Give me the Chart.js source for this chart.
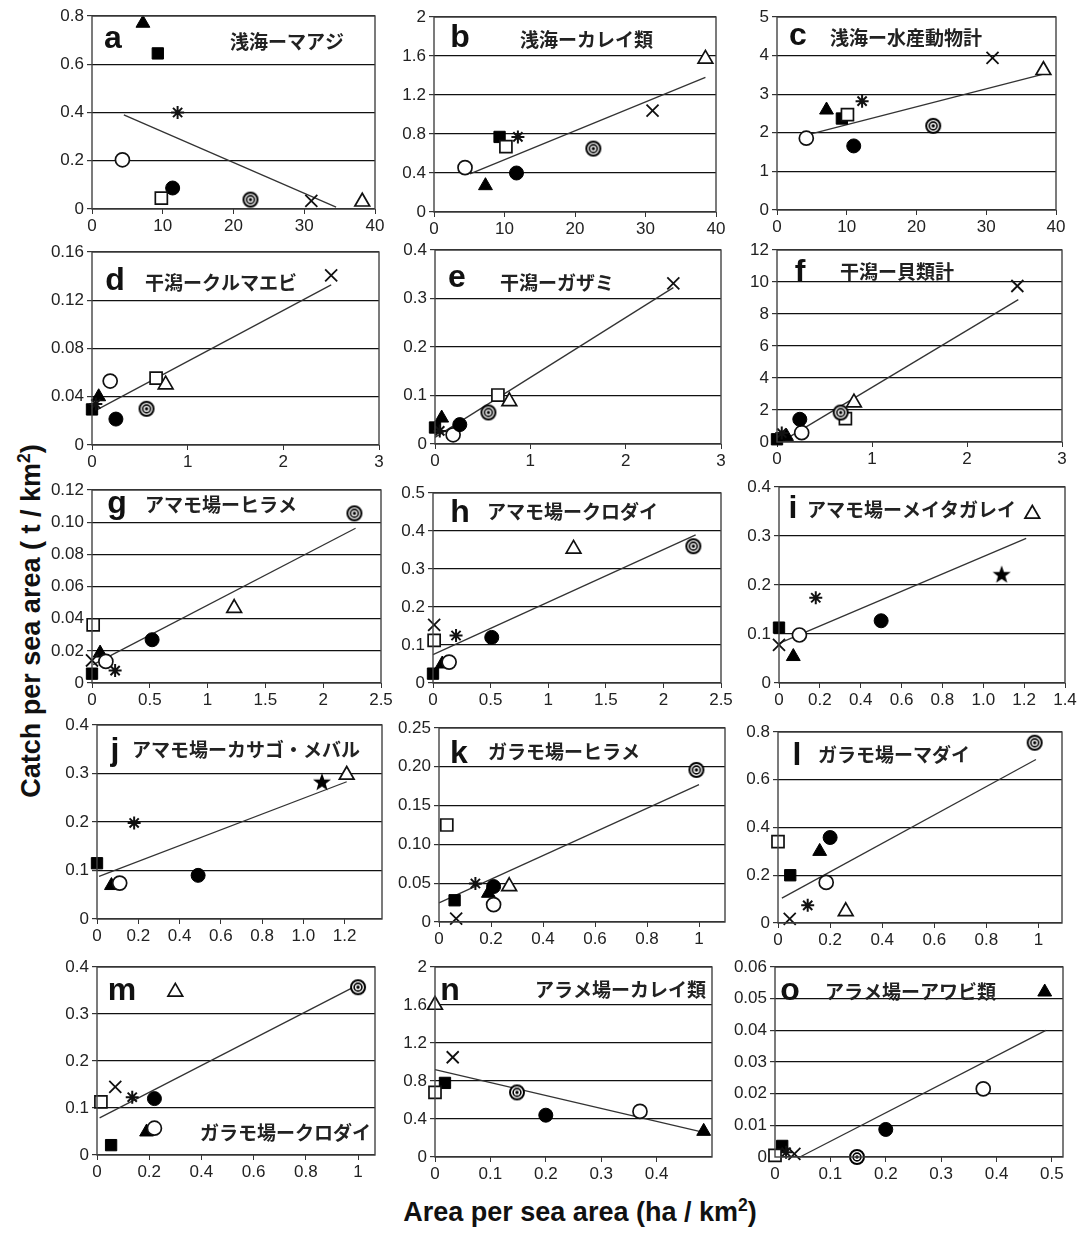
<!DOCTYPE html>
<html>
<head>
<meta charset="utf-8">
<script src="https://cdn.jsdelivr.net/npm/chart.js@4.4.1/dist/chart.umd.min.js"></script>
<style>
  html, body { margin: 0; padding: 0; background: #fff; }
  #page { position: relative; width: 1077px; height: 1233px; overflow: hidden; }
  canvas.panel { position: absolute; }
  .axis-title { position: absolute; font-family: "Liberation Sans", Arial, sans-serif; font-weight: bold; font-size: 27px; color: #111; white-space: nowrap; }
  .axis-title sup { font-size: 0.65em; }
  #ytitle { left: 30px; top: 621px; transform: translate(-50%, -50%) rotate(-90deg); }
  #xtitle { left: 580px; top: 1211px; transform: translate(-50%, -50%); }
</style>
</head>
<body>
<div id="page">
  <div id="ytitle" class="axis-title">Catch per sea area ( t / km<sup>2</sup>)</div>
  <div id="xtitle" class="axis-title">Area per sea area (ha / km<sup>2</sup>)</div>
</div>
<script>
// marker order used by every area / catch array below
const SITES = ['filledTriangle', 'filledSquare', 'asterisk', 'openCircle', 'filledCircle',
               'openSquare', 'bullseye', 'cross', 'openTriangle', 'filledStar'];

// a 浅海ーマアジ
const aArea  = [7.2, 9.3, 12.1, 4.3, 11.4, 9.8, 22.4, 31.0, 38.2, null];
const aCatch = [0.77, 0.645, 0.40, 0.204, 0.087, 0.045, 0.039, 0.034, 0.030, null];
const aFit   = [[4.5, 0.39], [34.5, 0.008]];
// b 浅海ーカレイ類
const bArea  = [7.3, 9.3, 11.9, 4.4, 11.7, 10.2, 22.6, 31.0, 38.5, null];
const bCatch = [0.27, 0.77, 0.77, 0.455, 0.40, 0.67, 0.65, 1.04, 1.57, null];
const bFit   = [[5.1, 0.39], [38.5, 1.38]];
// c 浅海ー水産動物計
const cArea  = [7.1, 9.3, 12.2, 4.2, 11.0, 10.1, 22.4, 30.9, 38.2, null];
const cCatch = [2.59, 2.37, 2.82, 1.86, 1.66, 2.47, 2.18, 3.94, 3.62, null];
const cFit   = [[4.2, 1.94], [38.2, 3.52]];
// d 干潟ークルマエビ
const dArea  = [0.07, 0.0, 0.04, 0.19, 0.25, 0.67, 0.57, 2.50, 0.77, null];
const dCatch = [0.040, 0.0295, 0.034, 0.053, 0.0215, 0.0555, 0.030, 0.1407, 0.050, null];
const dFit   = [[0, 0.027], [2.5, 0.1327]];
// e 干潟ーガザミ
const eArea  = [0.07, 0.0, 0.05, 0.19, 0.26, 0.66, 0.56, 2.50, 0.78, null];
const eCatch = [0.0535, 0.034, 0.027, 0.019, 0.040, 0.101, 0.065, 0.331, 0.088, null];
const eFit   = [[0, 0.0137], [2.5, 0.3225]];
// f 干潟ー貝類計
const fArea  = [0.10, 0.0, 0.05, 0.26, 0.24, 0.72, 0.67, 2.53, 0.81, null];
const fCatch = [0.35, 0.17, 0.56, 0.58, 1.42, 1.46, 1.84, 9.75, 2.46, null];
const fFit   = [[0.07, 0.1], [2.54, 8.9]];
// g アマモ場ーヒラメ
const gArea  = [0.07, 0.0, 0.2, 0.12, 0.52, 0.01, 2.27, 0.0, 1.23, null];
const gCatch = [0.0186, 0.0058, 0.0077, 0.0134, 0.0269, 0.0362, 0.1055, 0.014, 0.0466, null];
const gFit   = [[0.01, 0.0114], [2.28, 0.0962]];
// h アマモ場ークロダイ
const hArea  = [0.08, 0.0, 0.2, 0.14, 0.51, 0.01, 2.26, 0.01, 1.22, null];
const hCatch = [0.05, 0.0246, 0.125, 0.055, 0.12, 0.112, 0.36, 0.153, 0.353, null];
const hFit   = [[0, 0.0746], [2.28, 0.39]];
// i アマモ場ーメイタガレイ
const iArea  = [0.07, 0.0, 0.18, 0.10, 0.50, null, null, 0.0, 1.24, 1.09];
const iCatch = [0.054, 0.113, 0.174, 0.098, 0.127, null, null, 0.078, 0.345, 0.222];
const iFit   = [[0, 0.081], [1.21, 0.295]];
// j アマモ場ーカサゴ・メバル
const jArea  = [0.07, 0.0, 0.18, 0.11, 0.49, null, null, null, 1.21, 1.09];
const jCatch = [0.069, 0.115, 0.198, 0.074, 0.09, null, null, null, 0.297, 0.283];
const jFit   = [[0.01, 0.088], [1.21, 0.283]];
// k ガラモ場ーヒラメ
const kArea  = [0.19, 0.06, 0.14, 0.21, 0.21, 0.03, 0.99, 0.066, 0.27, null];
const kCatch = [0.037, 0.028, 0.0496, 0.0224, 0.0457, 0.125, 0.196, 0.0043, 0.046, null];
const kFit   = [[0, 0.0246], [1.0, 0.177]];
// l ガラモ場ーマダイ
const lArea  = [0.16, 0.047, 0.114, 0.185, 0.2, 0.0, 0.985, 0.045, 0.26, null];
const lCatch = [0.30, 0.2, 0.074, 0.17, 0.358, 0.341, 0.755, 0.017, 0.049, null];
const lFit   = [[0.015, 0.104], [0.99, 0.685]];
// m ガラモ場ークロダイ
const mArea  = [0.19, 0.054, 0.135, 0.22, 0.22, 0.015, 1.0, 0.07, 0.30, null];
const mCatch = [0.049, 0.021, 0.123, 0.057, 0.12, 0.113, 0.357, 0.145, 0.347, null];
const mFit   = [[0.01, 0.079], [1.0, 0.362]];
// n アラメ場ーカレイ類
const nArea  = [0.485, 0.018, null, 0.37, 0.2, 0.0, 0.148, 0.032, 0.0, null];
const nCatch = [0.27, 0.78, null, 0.48, 0.44, 0.68, 0.68, 1.05, 1.6, null];
const nFit   = [[0, 0.92], [0.485, 0.26]];
// o アラメ場ーアワビ類
const oArea  = [0.487, 0.013, 0.02, 0.376, 0.2, 0.0, 0.148, 0.035, null, null];
const oCatch = [0.0521, 0.0035, 0.0015, 0.0215, 0.0087, 0.0005, 0.0, 0.001, null, null];
const oFit   = [[0.045, 0.0], [0.489, 0.04]];

// tick labels
const X40 = ['0', '10', '20', '30', '40'];
const X3 = ['0', '1', '2', '3'];
const X25 = ['0', '0.5', '1', '1.5', '2', '2.5'];
const X14 = ['0', '0.2', '0.4', '0.6', '0.8', '1.0', '1.2', '1.4'];
const X12 = ['0', '0.2', '0.4', '0.6', '0.8', '1.0', '1.2'];
const X1 = ['0', '0.2', '0.4', '0.6', '0.8', '1'];
const X04 = ['0', '0.1', '0.2', '0.3', '0.4'];
const X05 = ['0', '0.1', '0.2', '0.3', '0.4', '0.5'];
const aY = ['0', '0.2', '0.4', '0.6', '0.8'];
const bY = ['0', '0.4', '0.8', '1.2', '1.6', '2'];
const cY = ['0', '1', '2', '3', '4', '5'];
const dY = ['0', '0.04', '0.08', '0.12', '0.16'];
const eY = ['0', '0.1', '0.2', '0.3', '0.4'];
const fY = ['0', '2', '4', '6', '8', '10', '12'];
const gY = ['0', '0.02', '0.04', '0.06', '0.08', '0.10', '0.12'];
const hY = ['0', '0.1', '0.2', '0.3', '0.4', '0.5'];
const kY = ['0', '0.05', '0.10', '0.15', '0.20', '0.25'];
const lY = ['0', '0.2', '0.4', '0.6', '0.8'];
const oY = ['0', '0.01', '0.02', '0.03', '0.04', '0.05', '0.06'];

// little canvases for the two marks Chart.js has no style for
function markCanvas(draw) {
  const c = document.createElement('canvas');
  c.width = 20; c.height = 20;
  draw(c.getContext('2d'));
  return c;
}
const bullseye = markCanvas(g => {
  g.strokeStyle = '#000'; g.fillStyle = '#fff'; g.lineWidth = 2;
  g.beginPath(); g.arc(10, 10, 7, 0, Math.PI * 2); g.fill(); g.stroke();
  g.lineWidth = 1.6;
  g.beginPath(); g.arc(10, 10, 3.9, 0, Math.PI * 2); g.stroke();
  g.fillStyle = '#000';
  g.beginPath(); g.arc(10, 10, 1.7, 0, Math.PI * 2); g.fill();
});
const filledStar = markCanvas(g => {
  g.fillStyle = '#000';
  g.beginPath();
  for (let k = 0; k < 10; k++) {
    const r = k % 2 ? 3.9 : 9.5;
    const a = -Math.PI / 2 + k * Math.PI / 5;
    g.lineTo(10 + r * Math.cos(a), 10.8 + r * Math.sin(a));
  }
  g.closePath(); g.fill();
});

const MARK = {
  filledTriangle: { style: 'triangle', r: 8, fill: '#000', line: '#000', w: 1 },
  filledSquare:   { style: 'rect', r: 8, fill: '#000', line: '#000', w: 1 },
  asterisk:       { style: 'star', r: 6.5, fill: '#000', line: '#111', w: 2 },
  openCircle:     { style: 'circle', r: 7, fill: '#fff', line: '#111', w: 1.7 },
  filledCircle:   { style: 'circle', r: 7, fill: '#000', line: '#000', w: 1 },
  openSquare:     { style: 'rect', r: 8.5, fill: '#fff', line: '#111', w: 1.7 },
  bullseye:       { style: bullseye, r: 8, fill: '#fff', line: '#111', w: 1 },
  cross:          { style: 'crossRot', r: 8.5, fill: '#000', line: '#111', w: 1.8 },
  openTriangle:   { style: 'triangle', r: 8.5, fill: '#fff', line: '#111', w: 1.7 },
  filledStar:     { style: filledStar, r: 9, fill: '#000', line: '#000', w: 1 },
};

const PANELS = [
  { letter: 'a', title: '浅海ーマアジ', area: aArea, catch: aCatch, fit: aFit, xT: X40, yT: aY, xMax: 40,
    box: [92, 16, 375, 209], letterAt: [21, 32], titleAt: [138, 33] },
  { letter: 'b', title: '浅海ーカレイ類', area: bArea, catch: bCatch, fit: bFit, xT: X40, yT: bY, xMax: 40,
    box: [434, 17, 716, 212], letterAt: [26, 30], titleAt: [86, 30] },
  { letter: 'c', title: '浅海ー水産動物計', area: cArea, catch: cCatch, fit: cFit, xT: X40, yT: cY, xMax: 40,
    box: [777, 17, 1056, 210], letterAt: [21, 28], titleAt: [53, 28] },
  { letter: 'd', title: '干潟ークルマエビ', area: dArea, catch: dCatch, fit: dFit, xT: X3, yT: dY, xMax: 3,
    box: [92, 252, 379, 445], letterAt: [23, 38], titleAt: [53, 38] },
  { letter: 'e', title: '干潟ーガザミ', area: eArea, catch: eCatch, fit: eFit, xT: X3, yT: eY, xMax: 3,
    box: [435, 250, 721, 444], letterAt: [22, 37], titleAt: [65, 40] },
  { letter: 'f', title: '干潟ー貝類計', area: fArea, catch: fCatch, fit: fFit, xT: X3, yT: fY, xMax: 3,
    box: [777, 250, 1062, 442], letterAt: [23, 32], titleAt: [63, 29] },
  { letter: 'g', title: 'アマモ場ーヒラメ', area: gArea, catch: gCatch, fit: gFit, xT: X25, yT: gY, xMax: 2.5,
    box: [92, 490, 381, 683], letterAt: [25, 23], titleAt: [53, 22] },
  { letter: 'h', title: 'アマモ場ークロダイ', area: hArea, catch: hCatch, fit: hFit, xT: X25, yT: hY, xMax: 2.5,
    box: [433, 493, 721, 683], letterAt: [27, 29], titleAt: [54, 26] },
  { letter: 'i', title: 'アマモ場ーメイタガレイ', area: iArea, catch: iCatch, fit: iFit, xT: X14, yT: eY, xMax: 1.4,
    box: [779, 487, 1065, 683], letterAt: [14, 31], titleAt: [28, 30] },
  { letter: 'j', title: 'アマモ場ーカサゴ・メバル', area: jArea, catch: jCatch, fit: jFit, xT: X12, yT: eY, xMax: 1.381,
    box: [97, 725, 382, 919], letterAt: [18, 35], titleAt: [35, 32] },
  { letter: 'k', title: 'ガラモ場ーヒラメ', area: kArea, catch: kCatch, fit: kFit, xT: X1, yT: kY, xMax: 1.1,
    box: [439, 728, 725, 922], letterAt: [20, 35], titleAt: [49, 31] },
  { letter: 'l', title: 'ガラモ場ーマダイ', area: lArea, catch: lCatch, fit: lFit, xT: X1, yT: lY, xMax: 1.09,
    box: [778, 732, 1062, 923], letterAt: [19, 33], titleAt: [40, 30] },
  { letter: 'm', title: 'ガラモ場ークロダイ', area: mArea, catch: mCatch, fit: mFit, xT: X1, yT: eY, xMax: 1.065,
    box: [97, 967, 375, 1155], letterAt: [25, 33], titleAt: [103, 173] },
  { letter: 'n', title: 'アラメ場ーカレイ類', area: nArea, catch: nCatch, fit: nFit, xT: X04, yT: bY, xMax: 0.5,
    box: [435, 967, 712, 1157], letterAt: [15, 33], titleAt: [100, 30] },
  { letter: 'o', title: 'アラメ場ーアワビ類', area: oArea, catch: oCatch, fit: oFit, xT: X05, yT: oY, xMax: 0.52,
    box: [775, 967, 1063, 1157], letterAt: [15, 33], titleAt: [50, 32] },
];

const TICK_FONT = { family: '"Liberation Sans", Arial, sans-serif', size: 17 };

// panel letter, Japanese title and the box around the plot
const panelDecor = {
  id: 'panelDecor',
  beforeDatasetsDraw(chart, args, opts) {
    const { ctx, chartArea: ca } = chart;
    ctx.save();
    ctx.fillStyle = '#111';
    ctx.textBaseline = 'alphabetic';
    ctx.textAlign = 'center';
    ctx.font = 'bold 32px "Liberation Sans", Arial, sans-serif';
    ctx.fillText(opts.letter, ca.left + opts.letterAt[0], ca.top + opts.letterAt[1]);
    ctx.textAlign = 'left';
    ctx.font = 'bold 19px "Noto Sans CJK JP", sans-serif';
    ctx.fillStyle = '#222';
    ctx.fillText(opts.title, ca.left + opts.titleAt[0], ca.top + opts.titleAt[1]);
    ctx.restore();
  },
  afterDraw(chart) {
    const { ctx, chartArea: ca } = chart;
    ctx.save();
    ctx.strokeStyle = '#444';
    ctx.lineWidth = 1.4;
    ctx.strokeRect(ca.left, ca.top, ca.right - ca.left, ca.bottom - ca.top);
    ctx.restore();
  }
};

const page = document.getElementById('page');
const padL = 52, padT = 14, padR = 16, padB = 30;

PANELS.forEach(p => {
  const [L, T, R, B] = p.box;
  const w = R - L + padL + padR, h = B - T + padT + padB;
  const canvas = document.createElement('canvas');
  canvas.className = 'panel';
  canvas.width = w; canvas.height = h;
  canvas.style.left = (L - padL) + 'px';
  canvas.style.top = (T - padT) + 'px';
  canvas.style.width = w + 'px';
  canvas.style.height = h + 'px';
  page.appendChild(canvas);

  const points = [];
  SITES.forEach((site, i) => {
    if (p.area[i] !== null) points.push({ x: p.area[i], y: p.catch[i], site });
  });
  const mk = c => MARK[c.raw.site];

  new Chart(canvas, {
    type: 'scatter',
    data: {
      datasets: [
        {
          data: points,
          pointStyle: c => mk(c).style,
          pointRadius: c => mk(c).r,
          pointBackgroundColor: c => mk(c).fill,
          pointBorderColor: c => mk(c).line,
          pointBorderWidth: c => mk(c).w,
          clip: false,
        },
        {
          type: 'line',
          data: p.fit.map(([x, y]) => ({ x, y })),
          borderColor: '#333',
          borderWidth: 1.3,
          pointRadius: 0,
          fill: false,
          clip: false,
        }
      ]
    },
    options: {
      responsive: false,
      animation: false,
      devicePixelRatio: 1,
      layout: { padding: { left: 0, top: padT, right: padR, bottom: 0 } },
      plugins: {
        legend: { display: false },
        tooltip: { enabled: false },
        panelDecor: { letter: p.letter, title: p.title, letterAt: p.letterAt, titleAt: p.titleAt },
      },
      scales: {
        x: {
          type: 'linear', min: 0, max: p.xMax,
          afterBuildTicks: s => { s.ticks = p.xT.map(t => ({ value: Number(t) })); },
          afterFit: s => { s.height = padB; },
          ticks: { callback: (v, i) => p.xT[i], color: '#222', font: TICK_FONT, padding: 2, maxRotation: 0, autoSkip: false },
          grid: { drawOnChartArea: false, tickColor: '#333', tickLength: 5 },
          border: { display: false },
        },
        y: {
          type: 'linear', min: 0, max: Number(p.yT[p.yT.length - 1]),
          afterBuildTicks: s => { s.ticks = p.yT.map(t => ({ value: Number(t) })); },
          afterFit: s => { s.width = padL; },
          ticks: { callback: (v, i) => p.yT[i], color: '#222', font: TICK_FONT, padding: 3, autoSkip: false },
          grid: { color: '#111', lineWidth: 1.2, tickColor: '#333', tickLength: 5 },
          border: { display: false },
        }
      }
    },
    plugins: [panelDecor]
  });
});
</script>
</body>
</html>
